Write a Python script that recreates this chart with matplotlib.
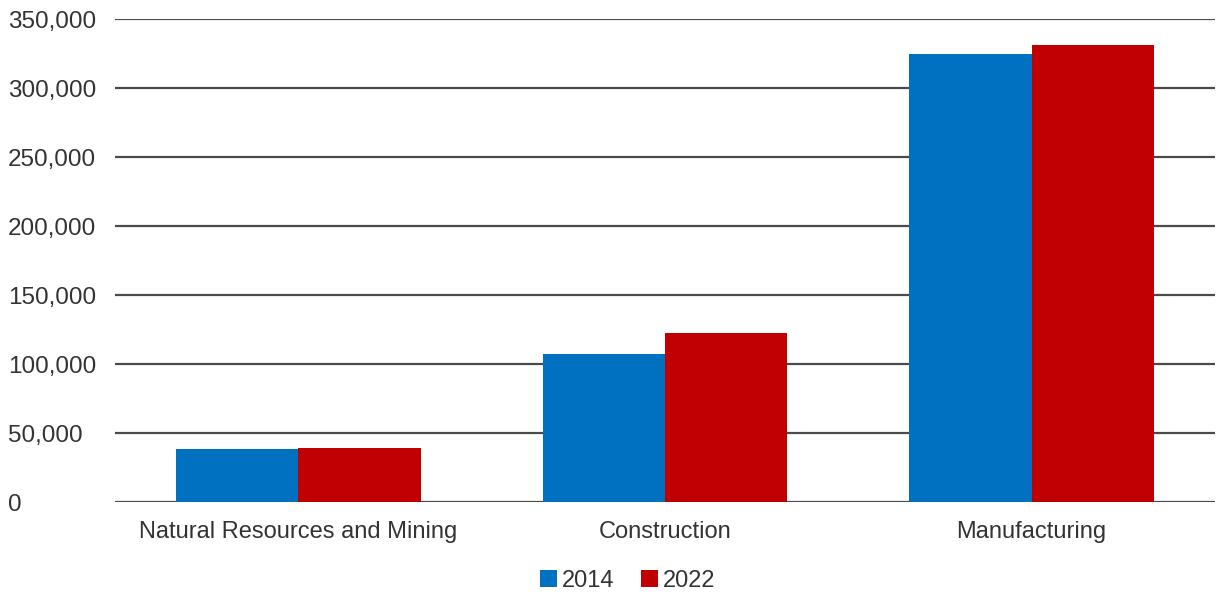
import matplotlib
matplotlib.use("Agg")
import matplotlib.pyplot as plt
import numpy as np
from matplotlib.ticker import FuncFormatter

categories = ["Natural Resources and Mining", "Construction", "Manufacturing"]
years = ["2014", "2022"]
values_2014 = [38400, 107200, 324600]
values_2022 = [39100, 122500, 331200]
y_ticks = [0, 50000, 100000, 150000, 200000, 250000, 300000, 350000]

colors = ["#0070C0", "#C00000"]
text_color = "#333333"

plt.rcParams["font.family"] = ["Liberation Sans", "DejaVu Sans"]

fig = plt.figure(figsize=(12.19, 5.95), dpi=100)
ax = fig.add_axes([0.0943, 0.1563, 0.9024, 0.8117])

x = np.arange(len(categories))
width = 1 / 3
ax.bar(x - width / 2, values_2014, width, color=colors[0], label=years[0], zorder=3)
ax.bar(x + width / 2, values_2022, width, color=colors[1], label=years[1], zorder=3)

ax.set_xlim(-0.5, len(categories) - 0.5)
ax.set_ylim(0, 350000)
ax.set_yticks(y_ticks)
ax.yaxis.set_major_formatter(FuncFormatter(lambda v, p: f"{int(v):,}"))
ax.set_xticks(x)
ax.set_xticklabels(categories)

ax.grid(axis="y", color="#4a4a4a", linewidth=1.6, zorder=0)
ax.set_axisbelow(True)
for side in ["top", "right", "left", "bottom"]:
    ax.spines[side].set_visible(False)
ax.tick_params(axis="both", length=0, labelsize=17, colors=text_color)
ax.tick_params(axis="x", pad=14)
ax.tick_params(axis="y", labelsize=17.5, pad=77)
for lbl in ax.get_yticklabels():
    lbl.set_horizontalalignment("left")

ax.legend(loc="center", bbox_to_anchor=(0.466, -0.163), ncol=2, frameon=False,
          fontsize=17, handlelength=0.75, handleheight=0.75, handletextpad=0.2,
          columnspacing=1.1, labelcolor=text_color)

fig.savefig("out.png", dpi=100, facecolor="white")
